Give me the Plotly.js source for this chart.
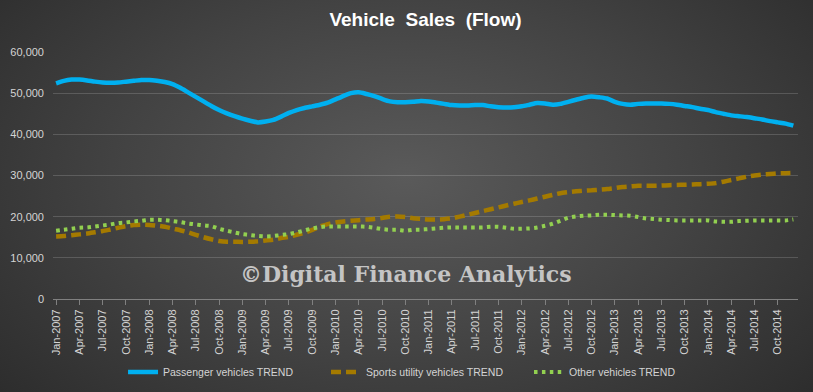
<!DOCTYPE html>
<html>
<head>
<meta charset="utf-8">
<script src="https://cdn.plot.ly/plotly-3.0.1.min.js"></script>
<style>
html,body{margin:0;padding:0;}
body{width:813px;height:392px;background:radial-gradient(ellipse 70% 90% at 50% 45%, #5a5a5a 0%, #434343 50%, #2a2a2a 100%);overflow:hidden;}
#chart{width:813px;height:392px;}
</style>
</head>
<body>
<div id="chart"></div>
<script>
var monthNames = ["Jan","Feb","Mar","Apr","May","Jun","Jul","Aug","Sep","Oct","Nov","Dec"];
var years = [2007,2008,2009,2010,2011,2012,2013,2014];
var months = [];
years.forEach(function(y){ monthNames.forEach(function(m){ months.push(m + "-" + y); }); });

var passenger = [
52400,53000,53300,53300,53100,52800,52600,52550,52600,52800,53000,53200,
53200,53000,52700,52200,51300,50200,49100,48000,46900,45900,45100,44400,
43800,43300,42900,43100,43500,44300,45200,45900,46400,46800,47200,47700,
48500,49300,50000,50200,49800,49300,48600,48000,47800,47800,47900,48100,
48000,47700,47400,47100,47000,47000,47100,47100,46800,46600,46500,46600,
46800,47200,47600,47500,47200,47400,47900,48400,48900,49200,49000,48700,
47900,47400,47200,47400,47500,47500,47500,47400,47200,46900,46600,46200,
45900,45400,45000,44600,44400,44200,43900,43600,43200,42900,42600,42100];

var sportsUtility = [
15200,15300,15500,15700,15900,16200,16500,16900,17300,17700,17950,18050,
18000,17800,17550,17100,16700,16200,15600,15000,14500,14100,13900,13900,
13850,13900,14000,14200,14400,14800,15100,15600,16100,16800,17600,18200,
18600,18850,19000,19150,19300,19450,19700,20000,20050,19900,19600,19450,
19300,19300,19400,19600,20000,20450,20900,21350,21800,22250,22700,23150,
23550,23950,24400,24850,25300,25700,25950,26150,26300,26400,26550,26700,
26950,27200,27350,27500,27500,27500,27550,27650,27700,27750,27800,27900,
28000,28150,28500,28900,29300,29700,30000,30200,30350,30500,30550,30600];

var otherVehicles = [
16580,16820,17060,17300,17380,17620,17870,18110,18450,18600,18840,19000,
19250,19250,19170,18930,18690,18350,18110,17870,17700,17060,16580,16170,
15780,15540,15300,15200,15300,15540,15780,16170,16660,17140,17480,17620,
17620,17620,17620,17620,17550,17300,16990,16820,16820,16580,16820,16860,
16990,17140,17300,17380,17380,17380,17380,17380,17550,17550,17300,17060,
17060,17140,17380,17790,18280,19000,19740,20050,20220,20300,20460,20460,
20380,20300,20220,19900,19570,19410,19250,19170,19090,19090,19090,19090,
19090,18840,18760,18760,18930,19000,19090,19090,19090,19090,19090,19330];

var seriesNames = ["Passenger vehicles TREND", "Sports utility vehicles TREND", "Other vehicles TREND"];
var yTicks = [0,10000,20000,30000,40000,50000,60000];

var traces = [
  {x: months, y: passenger, name: seriesNames[0], type: "scatter", mode: "lines",
   line: {color: "#00B0F0", width: 4.5, shape: "spline", smoothing: 0.6}},
  {x: months, y: sportsUtility, name: seriesNames[1], type: "scatter", mode: "lines",
   line: {color: "#A47A00", width: 4.5, dash: "10px,5px", shape: "spline", smoothing: 0.6}},
  {x: months, y: otherVehicles, name: seriesNames[2], type: "scatter", mode: "lines",
   line: {color: "#92D050", width: 4, dash: "3.5px,4.4px", shape: "spline", smoothing: 0.6}}
];

var layout = {
  width: 813, height: 392, autosize: false,
  paper_bgcolor: "rgba(0,0,0,0)", plot_bgcolor: "rgba(0,0,0,0)",
  margin: {l: 53, r: 15, t: 52, b: 93, autoexpand: false},
  title: {text: "Vehicle\u00a0 Sales\u00a0 (Flow)", x: 0.5, xanchor: "center", xref: "paper",
          y: 0.95, yanchor: "middle",
          font: {family: "Liberation Sans", size: 19, color: "#ffffff", weight: "bold"}},
  xaxis: {type: "category", range: [-0.4, 95.6], tickmode: "linear", tick0: 0, dtick: 3,
          tickangle: -90, ticks: "outside", ticklen: 5, tickcolor: "#808080", automargin: false,
          showline: true, linecolor: "#808080", linewidth: 1, showgrid: false, zeroline: false,
          tickfont: {family: "Liberation Sans", size: 11, color: "#d4d4d4"}},
  yaxis: {range: [0, 60000], tickvals: yTicks, tickformat: ",d", showgrid: true, automargin: false,
          gridcolor: "rgba(255,255,255,0.16)", gridwidth: 1, zeroline: false, showline: false,
          ticks: "", ticklabelstandoff: 8,
          tickfont: {family: "Liberation Sans", size: 11, color: "#d4d4d4"}},
  legend: {orientation: "h", x: 0.094, xanchor: "left", y: -0.296, yanchor: "middle",
           entrywidthmode: "pixels", entrywidth: 158,
           font: {family: "Liberation Sans", size: 10.5, color: "#d4d4d4"}, bgcolor: "rgba(0,0,0,0)"},
  showlegend: true,
  annotations: [{text: "©Digital Finance Analytics", xref: "paper", yref: "paper", x: 0.474, y: 0.1,
                 xanchor: "center", yanchor: "middle", showarrow: false,
                 font: {family: "DejaVu Serif", size: 22, color: "#c4c4c4", weight: "bold"}}]
};

Plotly.newPlot("chart", traces, layout, {displayModeBar: false, staticPlot: true});
</script>
</body>
</html>
